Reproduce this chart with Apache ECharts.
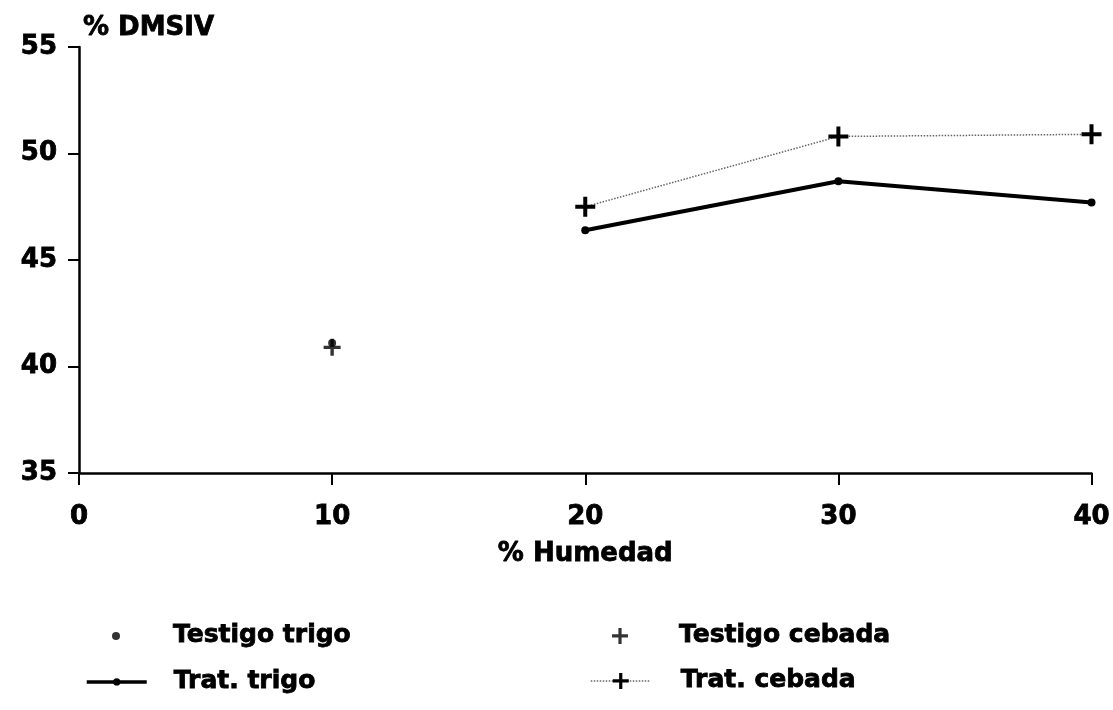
<!DOCTYPE html>
<html>
<head>
<meta charset="utf-8">
<script src="https://cdn.jsdelivr.net/npm/echarts@6/dist/echarts.min.js"></script>
<style>
html,body{margin:0;padding:0;background:#fff;}
#c{width:1113px;height:710px;}
</style>
</head>
<body>
<div id="c"></div>
<script>
// ---- data ----
var xTicks = [0, 10, 20, 30, 40];
var yTicks = [35, 40, 45, 50, 55];
var testigoTrigo = [[10, 41.1]];
var testigoCebada = [[10, 40.9]];
var tratTrigo = [[20, 46.4], [30, 48.7], [40, 47.7]];
var tratCebada = [[20, 47.5], [30, 50.8], [40, 50.9]];
var seriesNames = ['Testigo trigo', 'Testigo cebada', 'Trat. trigo', 'Trat. cebada'];
var yTitle = '% DMSIV';
var xTitle = '% Humedad';

var FONT = 'DejaVu Sans';
var PLUS = 'path://M4,0H6V4H10V6H6V10H4V6H0V4H4Z';
function txt(size) {
  return {fontFamily: FONT, fontWeight: 'bold', fontSize: size, color: '#000',
          textBorderColor: '#000', textBorderWidth: 0.8};
}

var chart = echarts.init(document.getElementById('c'), null, {renderer: 'canvas'});
chart.setOption({
  backgroundColor: '#fff',
  animation: false,
  title: {text: yTitle, left: 78, top: 10, textStyle: txt(26)},
  grid: {left: 79, right: 20, top: 47, bottom: 237, containLabel: false},
  xAxis: {
    type: 'value', min: xTicks[0], max: xTicks[xTicks.length - 1], interval: 10,
    name: xTitle, nameLocation: 'middle', nameGap: 68, nameTextStyle: txt(26),
    axisLine: {show: true, lineStyle: {color: '#000', width: 2.5}},
    axisTick: {show: true, length: 12, lineStyle: {color: '#000', width: 2}},
    axisLabel: Object.assign({margin: 31}, txt(26)),
    splitLine: {show: false}
  },
  yAxis: {
    type: 'value', min: yTicks[0], max: yTicks[yTicks.length - 1], interval: 5,
    axisLine: {show: true, onZero: false, lineStyle: {color: '#000', width: 2.5}},
    axisTick: {show: true, length: 11, lineStyle: {color: '#000', width: 2}},
    axisLabel: Object.assign({margin: 22}, txt(26)),
    splitLine: {show: false}
  },
  legend: [
    {data: [{name: seriesNames[0], itemStyle: {color: '#000'}}], left: 107, top: 618, icon: 'circle',
     itemWidth: 8, itemHeight: 8,
     textStyle: Object.assign({padding: [0, 0, 0, 48]}, txt(25))},
    {data: [{name: seriesNames[1], itemStyle: {color: '#000'}}], left: 607, top: 618, icon: PLUS,
     itemWidth: 16, itemHeight: 16,
     textStyle: Object.assign({padding: [0, 0, 0, 46]}, txt(25))},
    {data: [{name: seriesNames[2], lineStyle: {width: 3.5, color: '#000'}}], left: 80, top: 664,
     itemWidth: 60, itemHeight: 9,
     textStyle: Object.assign({padding: [0, 0, 0, 22]}, txt(25))},
    {data: [{name: seriesNames[3], lineStyle: {width: 1.5, color: '#666', type: 'dotted'}}], left: 585, top: 663,
     itemWidth: 60, itemHeight: 20,
     textStyle: Object.assign({padding: [0, 0, 0, 25]}, txt(25))}
  ],
  series: [
    {name: seriesNames[0], type: 'scatter', data: testigoTrigo, symbol: 'circle', symbolSize: 8,
     itemStyle: {color: '#000'}, z: 5},
    {name: seriesNames[1], type: 'scatter', data: testigoCebada, symbol: PLUS, symbolSize: 17,
     itemStyle: {color: '#000'}},
    {name: seriesNames[2], type: 'line', data: tratTrigo, symbol: 'circle', symbolSize: 8,
     itemStyle: {color: '#000'}, lineStyle: {color: '#000', width: 4}},
    {name: seriesNames[3], type: 'line', data: tratCebada, symbol: PLUS, symbolSize: 20,
     itemStyle: {color: '#000'}, lineStyle: {color: '#666', width: 1.5, type: 'dotted'}}
  ]
});
</script>
</body>
</html>
